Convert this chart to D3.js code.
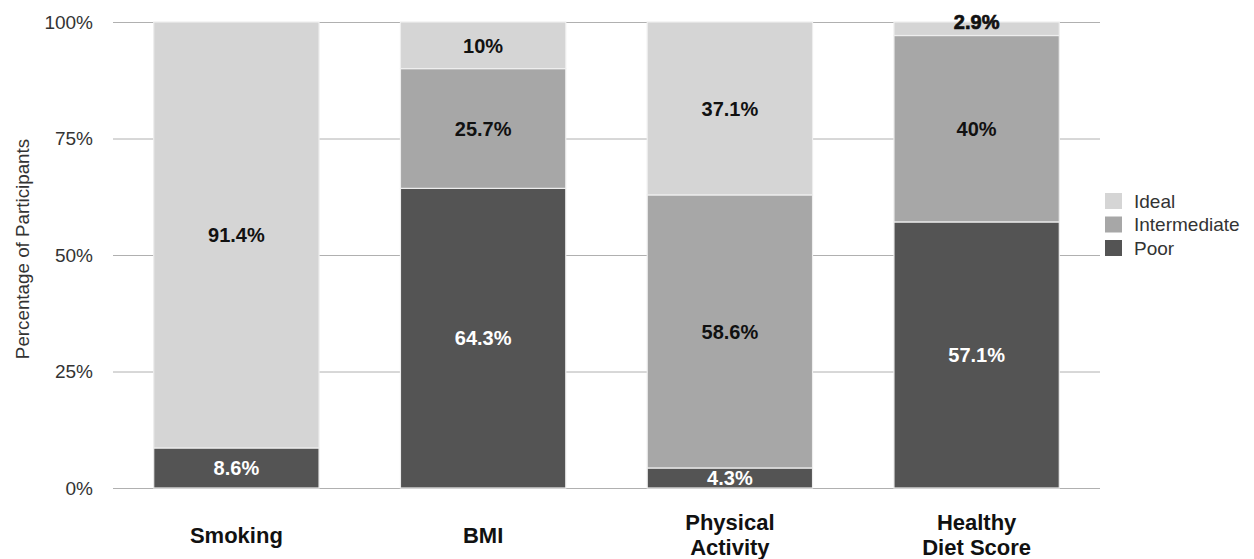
<!DOCTYPE html>
<html>
<head>
<meta charset="utf-8">
<script src="https://cdn.jsdelivr.net/npm/d3@7"></script>
<style>
  html, body { margin: 0; padding: 0; background: #fff; }
  svg { display: block; font-family: "Liberation Sans", Arial, sans-serif; }
</style>
</head>
<body>
<svg id="chart" width="1254" height="559"></svg>
<script>
// Health behaviour categories (x axis) — each label may wrap onto two lines
const categories = ["Smoking", "BMI", "Physical Activity", "Healthy Diet Score"];
const categoryLines = [["Smoking"], ["BMI"], ["Physical", "Activity"], ["Healthy", "Diet Score"]];

// Share of participants per level, in percent
const poor = [8.6, 64.3, 4.3, 57.1];
const intermediate = [0, 25.7, 58.6, 40];
const ideal = [91.4, 10, 37.1, 2.9];

const seriesNames = ["Poor", "Intermediate", "Ideal"];
const seriesColors = ["#545454", "#a7a7a7", "#d5d5d5"];
const labelColors = ["#ffffff", "#111111", "#111111"];

const yTicks = [0, 25, 50, 75, 100];

const rows = categories.map((c, i) => ({
  category: c,
  Poor: poor[i],
  Intermediate: intermediate[i],
  Ideal: ideal[i]
}));

const svg = d3.select("#chart");
const margin = { left: 113, right: 154, top: 22, bottom: 71 };
const W = 1254, H = 559;

const x = d3.scaleBand()
  .domain(categories)
  .range([margin.left, W - margin.right])
  .paddingInner(0.33)
  .paddingOuter(0.165);

const y = d3.scaleLinear()
  .domain([0, 100])
  .range([H - margin.bottom, margin.top]);

// Horizontal gridlines and tick labels
const yAxis = d3.axisLeft(y)
  .tickValues(yTicks)
  .tickFormat(d => d + "%")
  .tickSize(-(W - margin.right - margin.left))
  .tickPadding(20);

const gy = svg.append("g")
  .attr("transform", `translate(${margin.left},0)`)
  .call(yAxis);
gy.select(".domain").remove();
gy.selectAll(".tick line").attr("stroke", "#b0b0b0").attr("stroke-width", 1);
gy.selectAll(".tick text")
  .attr("fill", "#333")
  .attr("font-size", 19)
  .attr("font-family", "Liberation Sans, Arial, sans-serif");

// Y axis title
svg.append("text")
  .attr("transform", "translate(29,249) rotate(-90)")
  .attr("text-anchor", "middle")
  .attr("font-size", 18.8)
  .attr("fill", "#333")
  .text("Percentage of Participants");

// Stacked bars
const stacked = d3.stack().keys(seriesNames)(rows);

const layers = svg.append("g").selectAll("g")
  .data(stacked)
  .join("g")
  .attr("fill", (d, i) => seriesColors[i]);

layers.selectAll("rect")
  .data(d => d.filter(s => s[1] - s[0] > 0))
  .join("rect")
  .attr("x", d => x(d.data.category))
  .attr("width", x.bandwidth())
  .attr("y", d => y(d[1]))
  .attr("height", d => y(d[0]) - y(d[1]))
  .attr("stroke", "#eeeeee")
  .attr("stroke-width", 1.2);

// Segment value labels
stacked.forEach((layer, li) => {
  const key = layer.key;
  layer.forEach(seg => {
    const v = seg.data[key];
    if (v <= 0) return;
    const cx = x(seg.data.category) + x.bandwidth() / 2;
    let cy = y((seg[0] + seg[1]) / 2);
    const tiny = v < 4;
    if (tiny) cy = y(seg[1]) - 0.5;
    svg.append("text")
      .attr("x", cx)
      .attr("y", cy)
      .attr("dy", "0.36em")
      .attr("text-anchor", "middle")
      .attr("font-size", 20)
      .attr("font-weight", "bold")
      .attr("fill", labelColors[li])
      .attr("stroke", tiny ? labelColors[li] : "none")
      .attr("stroke-width", tiny ? 0.7 : 0)
      .text(v + "%");
  });
});

// Category labels
categories.forEach((c, i) => {
  const lines = categoryLines[i];
  const cx = x(c) + x.bandwidth() / 2;
  const t = svg.append("text")
    .attr("x", cx)
    .attr("text-anchor", "middle")
    .attr("font-size", 22)
    .attr("font-weight", "bold")
    .attr("fill", "#111");
  const baseY = lines.length === 1 ? 543 : 530;
  lines.forEach((ln, k) => {
    t.append("tspan").attr("x", cx).attr("y", baseY + k * 25).text(ln);
  });
});

// Legend (top to bottom: Ideal, Intermediate, Poor)
const legendOrder = [2, 1, 0];
const legend = svg.append("g").attr("transform", "translate(1105,193)");
legendOrder.forEach((si, k) => {
  const g = legend.append("g").attr("transform", `translate(0,${k * 23.5})`);
  g.append("rect")
    .attr("width", 17).attr("height", 16)
    .attr("fill", seriesColors[si]);
  g.append("text")
    .attr("x", 29).attr("y", 8)
    .attr("dy", "0.36em")
    .attr("font-size", 19)
    .attr("fill", "#333")
    .text(seriesNames[si]);
});
</script>
</body>
</html>
